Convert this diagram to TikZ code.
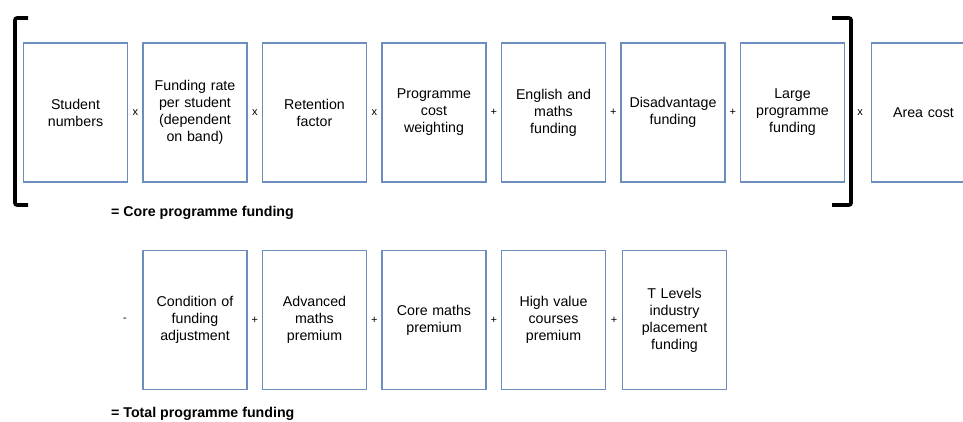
\documentclass[tikz,border=0pt]{standalone}
\usepackage{fontspec}
\setmainfont{Liberation Sans}
\usetikzlibrary{calc}

\definecolor{boxblue}{RGB}{108,142,191}

\begin{document}
\begin{tikzpicture}[x=1pt, y=-1pt, node distance=119.5pt]
  \tikzstyle{block} = [draw=boxblue, line width=1.2pt, rectangle, minimum height=139pt, minimum width=104pt, text width=100pt, align=center, inner sep=0pt, font=\fontsize{14.2}{17}\selectfont]
  \tikzstyle{op} = [inner sep=0pt, font=\fontsize{11}{13}\selectfont]
  \tikzstyle{bracket} = [line width=3.6pt, rounded corners=2pt]
  \tikzstyle{result} = [anchor=west, inner sep=0pt, font=\fontsize{14.2}{17}\selectfont\bfseries]
  \clip (0,0) rectangle (963,422);

  % core programme funding
  \node [block] (students) at (75.5,112.5) {Student\\numbers};
  \node [block, right of=students] (rate) {Funding rate\\per student\\(dependent\\on band)};
  \node [block, right of=rate] (retention) {Retention\\factor};
  \node [block, right of=retention] (weighting) {Programme\\cost\\weighting};
  \node [block, right of=weighting] (englishmaths) {English and\\maths\\funding};
  \node [block, right of=englishmaths] (disadvantage) {Disadvantage\\funding};
  \node [block, right of=disadvantage] (large) {Large\\programme\\funding};
  \node [block, right of=large, node distance=131pt] (area) {Area cost};

  \node [op] at ($(students)!0.5!(rate)$) {x};
  \node [op] at ($(rate)!0.5!(retention)$) {x};
  \node [op] at ($(retention)!0.5!(weighting)$) {x};
  \node [op] at ($(weighting)!0.5!(englishmaths)$) {+};
  \node [op] at ($(englishmaths)!0.5!(disadvantage)$) {+};
  \node [op] at ($(disadvantage)!0.5!(large)$) {+};
  \node [op] at ($(large)!0.5!(area)+(2,0)$) {x};

  \draw [bracket] (28,18) -- (15,18) -- (15,205) -- (28,205);
  \draw [bracket] (832,18) -- (851,18) -- (851,205) -- (832,205);

  \node [result] (core) at (111,213) {= Core programme funding};

  % total programme funding
  \node [block, below of=rate, node distance=207.5pt] (condition) {Condition of\\funding\\adjustment};
  \node [block, right of=condition] (advanced) {Advanced\\maths\\premium};
  \node [block, right of=advanced] (coremaths) {Core maths\\premium};
  \node [block, right of=coremaths] (highvalue) {High value\\courses\\premium};
  \node [block, right of=highvalue, node distance=121pt] (tlevels) {T Levels\\industry\\placement\\funding};

  \node [op, left of=condition, node distance=70pt] {-};
  \node [op] at ($(condition)!0.5!(advanced)$) {+};
  \node [op] at ($(advanced)!0.5!(coremaths)$) {+};
  \node [op] at ($(coremaths)!0.5!(highvalue)$) {+};
  \node [op] at ($(highvalue)!0.5!(tlevels)$) {+};

  \node [result] (total) at (111,414) {= Total programme funding};
\end{tikzpicture}
\end{document}
